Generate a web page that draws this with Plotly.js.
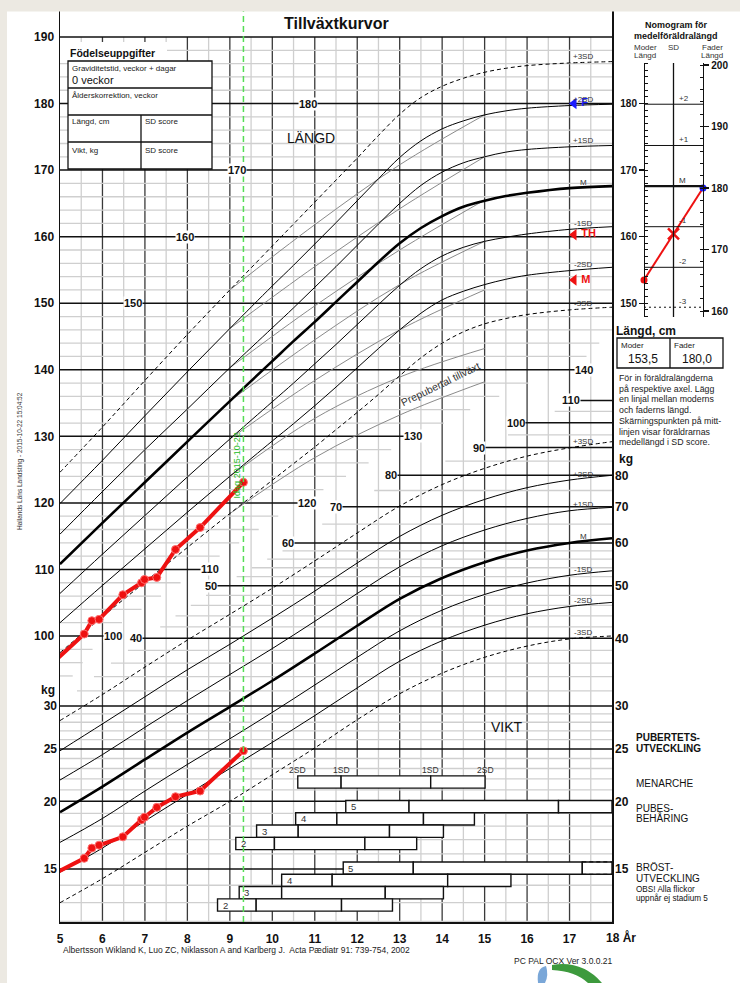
<!DOCTYPE html>
<html><head><meta charset="utf-8">
<script src="https://cdn.plot.ly/plotly-3.0.1.min.js"></script>
<style>html,body{margin:0;padding:0;background:#fff;}</style>
</head><body>
<div id="chart" style="width:740px;height:983px"></div>
<script>
// ---------------- DATA ----------------
const lAges = [5,6,7,8,9,10,10.5,11,11.5,12,12.5,13,13.5,14,14.5,15,15.5,16,17,18];
// Length (cm) reference curves
const lenP3 = [124.6,131.4,138.4,145.3,152.0,158.6,161.9,165.2,168.5,171.8,175.2,178.4,180.9,182.6,183.8,184.7,185.3,185.7,186.1,186.3];
const lenP2 = [119.9,126.4,133.1,139.7,146.2,152.6,155.7,158.9,162.1,165.4,168.7,171.9,174.4,176.2,177.4,178.3,178.9,179.3,179.7,179.9];
const lenP1 = [115.3,121.7,128.0,134.1,140.3,146.3,149.3,152.4,155.5,158.7,161.9,165.0,167.7,169.7,171.1,172.0,172.7,173.1,173.5,173.7];
const lenM  = [110.8,117.0,123.1,129.2,135.3,141.3,144.3,147.2,150.2,153.2,156.2,159.0,161.3,163.1,164.5,165.4,166.1,166.6,167.3,167.6];
const lenN1 = [106.4,112.3,118.1,123.9,129.6,135.2,138.0,140.9,143.8,146.8,149.8,152.7,155.2,157.1,158.4,159.3,159.9,160.4,161.1,161.5];
const lenN2 = [102.0,107.6,113.1,118.6,124.0,129.3,131.9,134.6,137.4,140.3,143.2,146.0,148.5,150.5,151.8,152.8,153.6,154.2,154.9,155.4];
const lenN3 = [97.5,102.9,108.1,113.3,118.4,123.4,125.9,128.4,131.0,133.6,136.3,139.1,141.8,144.0,145.7,146.9,147.7,148.3,149.0,149.4];
// Prepubertal (childhood) growth lines
const preAges = [9,11,13,15];
const preP3 = [152.0,161.8,170.8,178.3];
const preP2 = [146.2,155.5,164.2,172.0];
const preP1 = [140.3,149.6,158.0,165.5];
const preM  = [135.3,144.5,152.8,159.3];
const preN1 = [129.6,138.4,146.0,152.0];
const preN2 = [124.0,132.7,138.9,143.2];
const preN3 = [118.4,126.8,133.2,138.2];
const preLabel = "Prepubertal tillväxt";
// Weight (kg) reference curves
const wAges = [5,6,7,8,9,10,11,12,13,14,15,16,17,18];
const wtP3 = [28.2,31.5,35.4,39.7,44.3,49.5,55.6,62.6,70.2,76.9,82.4,86.8,89.9,92.3];
const wtP2 = [24.8,27.8,31.2,35.0,39.0,43.6,48.9,55.1,61.7,67.5,72.2,75.9,78.4,80.0];
const wtP1 = [21.9,24.4,27.4,30.7,34.3,38.3,43.0,48.4,54.2,59.3,63.4,66.6,68.8,69.8];
const wtM  = [19.1,21.3,23.9,26.8,29.9,33.4,37.5,42.2,47.3,51.7,55.3,58.1,60.0,61.2];
const wtN1 = [16.8,18.6,20.9,23.4,26.1,29.2,32.8,36.9,41.3,45.1,48.2,50.6,52.3,53.3];
const wtN2 = [14.8,16.4,18.4,20.6,23.0,25.7,28.8,32.4,36.3,39.6,42.3,44.4,45.8,46.6];
const wtN3 = [13.0,14.4,16.1,18.0,20.0,22.4,25.1,28.3,31.6,34.5,36.9,38.7,39.9,40.4];
// Measurements of the child
const measAge = [4.75,5.57,5.75,5.92,6.48,6.92,6.99,7.28,7.72,8.30,9.32];
const measLen = [95.5,100.3,102.3,102.5,106.2,108.0,108.5,108.8,113.0,116.3,123.1];
const measWt  = [14.55,15.7,16.4,16.6,17.2,18.5,18.7,19.5,20.4,20.9,24.8];
const todayAge = 9.32;
const todayLabel = "Idag 2015-10-22";
// Parents
const motherH = 153.5, fatherH = 180.0, targetH = 160.3;
// Puberty (age at -2SD, -1SD, +1SD, +2SD)
const menarche = [10.60,11.62,13.73,15.01];
const pubes5 = [11.73,13.22,16.74,18.0];
const pubes4 = [10.55,11.52,13.56,14.76];
const pubes3 = [9.63,10.61,12.76,14.03];
const pubes2 = [9.14,10.05,12.18,13.40];
const breast5 = [11.67,13.32,17.30,18.0];
const breast4 = [10.22,11.41,14.13,15.62];
const breast3 = [9.22,10.22,12.66,14.03];
const breast2 = [8.71,9.62,11.63,12.83];
// Tick labels
const xTicks = [5,6,7,8,9,10,11,12,13,14,15,16,17];
const lenTicks = [100,110,120,130,140,150,160,170,180,190];
const wtTicksLeft = [15,20,25,30];
const wtTicksRight = [15,20,25,30,40,50,60,70,80];
const sdNames = ["+3SD","+2SD","+1SD","M","-1SD","-2SD","-3SD"];
const nomoNames = ["+3","+2","+1","M","-1","-2","-3"];

// ---------------- GEOMETRY ----------------
const W = 740, H = 983;
const px = x => x / W, py = y => 1 - y / H;
const L = 60, R = 612, T = 11, B = 922, GT = 37;
const cmPx = 6.656;
const lenHi = 190 + (GT - T) / cmPx, lenLo = 100 - (B - 636) / cmPx;
const decPx = 541.6;
const wHi = Math.log10(30) + (706 - T) / decPx, wLo = Math.log10(30) - (B - 706) / decPx;
const rowPx = 12.3, rowBase = 905;
const rLo = (rowBase - B) / rowPx, rHi = (rowBase - T) / rowPx;
const yrPx = (R - L) / 13;
const ageAtPx = p => 5 + (p - L) / yrPx;
const FONT = "Liberation Sans, Arial, sans-serif";
const BEIGE = "#ece9e2";

const shapes = [], ann = [], traces = [];
function interp(xs, ys, x){ if(x<=xs[0]) return ys[0]; for(let i=0;i<xs.length-1;i++){ if(x<=xs[i+1]) { const t=(x-xs[i])/(xs[i+1]-xs[i]); return ys[i]+t*(ys[i+1]-ys[i]); } } return ys[ys.length-1]; }

// ---- minor grid ----
const gridY0 = py(B), gridY1 = py(GT);
for (let a = 5.5; a < 18; a += 1) shapes.push({type:'line', layer:'below', xref:'x', yref:'paper', x0:a, x1:a, y0:gridY0, y1:gridY1, line:{color:'#cfcfcf', width:1.3}});
const lenBoundL = [94,100,118,128,134,142,146], lenBoundA = [5.3,6.0,10.14,12.8,14.66,17.4,18];
for (let v = 94; v <= 188; v += 2) {
  if (v % 10 === 0) continue;
  const end = Math.min(18, interp(lenBoundL, lenBoundA, v));
  shapes.push({type:'line', layer:'below', xref:'x', yref:'y', x0:5, x1:end, y0:v, y1:v, line:{color:'#cfcfcf', width:1.3}});
}
const wBoundW = [30,40,50,60,70,80,90,100,110], wBoundA = [5,7.0,8.8,10.6,11.75,13.05,15.1,16.0,17.3];
const wMinor = [12,13,14,16,17,18,19,21,22,23,24,26,27,28,29,32,34,36,38,42,44,46,48,52,54,56,58,65,75,85,95,105];
wMinor.forEach(v => {
  const st = v < 30 ? 5 : interp(wBoundW, wBoundA, v);
  shapes.push({type:'line', layer:'below', xref:'x', yref:'y2', x0:st, x1:18, y0:v, y1:v, line:{color:'#cfcfcf', width:1.3}});
});
// ---- major grid ----
for (let a = 6; a < 18; a += 1) shapes.push({type:'line', layer:'below', xref:'x', yref:'paper', x0:a, x1:a, y0:gridY0, y1:gridY1, line:{color:'#3a3a3a', width:1.3}});
const lenFull = [[150,6.72],[160,7.94],[170,9.17],[180,10.84],[190,null]];
const lenPart = [[100,6.25],[110,8.53],[120,10.82],[130,13.31],[140,17.34]];
const lblFont = {size:11, family:FONT, color:'#111'};
lenFull.forEach(([v,a]) => {
  shapes.push({type:'line', layer:'below', xref:'x', yref:'y', x0:5, x1:18, y0:v, y1:v, line:{color:'#111', width:1.5}});
  if (a) ann.push({xref:'x', yref:'y', x:a, y:v, text:'<b>'+v+'</b>', showarrow:false, bgcolor:'#fff', font:lblFont, borderpad:0});
});
lenPart.forEach(([v,a]) => {
  shapes.push({type:'line', layer:'below', xref:'x', yref:'y', x0:5, x1:a, y0:v, y1:v, line:{color:'#111', width:1.5}});
  ann.push({xref:'x', yref:'y', x:a, y:v, text:'<b>'+v+'</b>', showarrow:false, bgcolor:'#fff', font:lblFont, borderpad:0});
});
const wtPart = [[40,6.79],[50,8.56],[60,10.37],[70,11.50],[80,12.80],[90,14.87],[100,15.74],[110,17.03]];
wtPart.forEach(([v,a]) => {
  shapes.push({type:'line', layer:'below', xref:'x', yref:'y2', x0:a, x1:18, y0:v, y1:v, line:{color:'#111', width:1.5}});
  ann.push({xref:'x', yref:'y2', x:a, y:Math.log10(v), text:'<b>'+v+'</b>', showarrow:false, bgcolor:'#fff', font:lblFont, borderpad:0});
});
[15,20,25,30].forEach(v => shapes.push({type:'line', layer:'below', xref:'x', yref:'y2', x0:5, x1:18, y0:v, y1:v, line:{color:'#111', width:1.5}}));

// ---- prepubertal lines ----
[preP3,preP2,preP1,preM,preN1,preN2,preN3].forEach(arr => traces.push({x:preAges, y:arr, xaxis:'x', yaxis:'y', mode:'lines', line:{color:'#8a8a8a', width:1, shape:'spline', smoothing:1}, hoverinfo:'skip', showlegend:false}));
ann.push({xref:'x', yref:'y', x:13.95, y:137.9, text:preLabel, textangle:-26, showarrow:false, font:{size:10.5, family:FONT, color:'#333'}});

// ---- reference curves ----
const lenCurves = [lenP3,lenP2,lenP1,lenM,lenN1,lenN2,lenN3];
const wtCurves = [wtP3,wtP2,wtP1,wtM,wtN1,wtN2,wtN3];
function styleFor(i){ if(i===3) return {color:'#000', width:2.6}; if(i===0||i===6) return {color:'#000', width:1, dash:'4px,3px'}; return {color:'#000', width:1}; }
lenCurves.forEach((c,i) => traces.push({x:lAges, y:c, xaxis:'x', yaxis:'y', mode:'lines', line:Object.assign({shape:'spline', smoothing:1}, styleFor(i)), hoverinfo:'skip', showlegend:false}));
wtCurves.forEach((c,i) => traces.push({x:wAges, y:c, xaxis:'x', yaxis:'y2', mode:'lines', line:Object.assign({shape:'spline', smoothing:1}, styleFor(i)), hoverinfo:'skip', showlegend:false}));
const labAge = ageAtPx(583);
const i17l = lAges.indexOf(17), i17w = wAges.indexOf(17);
lenCurves.forEach((c,i) => ann.push({xref:'x', yref:'y', x:labAge, y:c[i17l], yshift:6, text:sdNames[i], showarrow:false, font:{size:8, family:FONT, color:'#333'}}));
wtCurves.forEach((c,i) => ann.push({xref:'x', yref:'y2', x:labAge, y:Math.log10(c[i17w]), yshift:6, text:sdNames[i], showarrow:false, font:{size:8, family:FONT, color:'#333'}}));

// ---- puberty bars ----
const pubRows = [[menarche,10,null],[pubes5,8,'5'],[pubes4,7,'4'],[pubes3,6,'3'],[pubes2,5,'2'],[breast5,3,'5'],[breast4,2,'4'],[breast3,1,'3'],[breast2,0,'2']];
pubRows.forEach(([arr,row,lab]) => {
  for (let k=0;k<3;k++) traces.push({type:'bar', orientation:'h', xaxis:'x', yaxis:'y5', y:[row], x:[arr[k+1]-arr[k]], base:[arr[k]], width:[1], marker:{color:'#fff', line:{color:'#111', width:1.4}}, hoverinfo:'skip', showlegend:false});
  if (lab) ann.push({xref:'x', yref:'y5', x:arr[0], y:row, xshift:3, xanchor:'left', text:lab, showarrow:false, font:{size:9.5, family:FONT, color:'#333'}});
});
['2SD','1SD','1SD','2SD'].forEach((t,k) => ann.push({xref:'x', yref:'y5', x:menarche[k], y:10.95, text:t, showarrow:false, font:{size:8.5, family:FONT, color:'#333'}}));
[2.5,3.5].forEach(r => shapes.push({type:'line', xref:'x', yref:'y5', x0:breast5[2], x1:18, y0:r, y1:r, line:{color:'#111', width:1.2, dash:'4px,3px'}}));

// ---- today line ----
shapes.push({type:'line', xref:'x', yref:'paper', x0:todayAge, x1:todayAge, y0:py(B), y1:py(T), line:{color:'#55dd55', width:1.5, dash:'6px,4px'}});
ann.push({xref:'x', yref:'y', x:todayAge, y:125.7, xshift:-6, textangle:-90, text:todayLabel, showarrow:false, font:{size:9, family:FONT, color:'#22bb22'}});

// ---- measurements ----
const redMk = {color:'#ee1111', size:8, line:{color:'#ff7070', width:1}};
traces.push({x:measAge, y:measLen, xaxis:'x', yaxis:'y', mode:'lines+markers', line:{color:'#ee1111', width:4}, marker:redMk, hoverinfo:'skip', showlegend:false});
traces.push({x:measAge, y:measWt, xaxis:'x', yaxis:'y2', mode:'lines+markers', line:{color:'#ee1111', width:4}, marker:redMk, hoverinfo:'skip', showlegend:false});
const mkAge = ageAtPx(574);
traces.push({x:[mkAge], y:[fatherH], xaxis:'x', yaxis:'y', mode:'markers+text', marker:{symbol:'triangle-left', size:10, color:'#1a1aff'}, text:['<b>F</b>'], textposition:'middle right', textfont:{size:11, color:'#1a1aff', family:FONT}, hoverinfo:'skip', showlegend:false, cliponaxis:false});
traces.push({x:[mkAge,mkAge], y:[targetH,motherH], xaxis:'x', yaxis:'y', mode:'markers+text', marker:{symbol:'triangle-left', size:10, color:'#ee1111'}, text:['<b>TH</b>','<b>M</b>'], textposition:'middle right', textfont:{size:11, color:'#ee1111', family:FONT}, hoverinfo:'skip', showlegend:false, cliponaxis:false});

// ---- nomogram ----
const nomTop = 63, nomBot = 317;
const motherRange = [190 - (nomBot - GT)/cmPx, 190 - (nomTop - GT)/cmPx];
const fPx = 6.15;
const fatherRange = [160 - (nomBot - 311)/fPx, 200 + (65 - nomTop)/fPx];
const final = lenCurves.map(c => c[c.length-1]);
final.forEach((v,i) => {
  shapes.push({type:'line', xref:'x3', yref:'y3', x0:0, x1:2, y0:v, y1:v, line:{color:'#111', width: i===3?2.2:1, dash:(i===0||i===6)?'2px,3px':'solid'}});
  ann.push({xref:'x3', yref:'y3', x:1, y:v, xshift:3, yshift:6, xanchor:'left', text:nomoNames[i], showarrow:false, font:{size:8, family:FONT, color:'#333'}});
});
shapes.push({type:'line', xref:'x3', yref:'y3 domain', x0:1, x1:1, y0:0, y1:1, line:{color:'#111', width:1.3}});
const toMother = f => motherRange[0] + (f - fatherRange[0]) / (fatherRange[1]-fatherRange[0]) * (motherRange[1]-motherRange[0]);
const fEq = toMother(fatherH);
traces.push({x:[0,2], y:[motherH,fEq], xaxis:'x3', yaxis:'y3', mode:'lines', line:{color:'#ee1111', width:2}, hoverinfo:'skip', showlegend:false});
traces.push({x:[0], y:[motherH], xaxis:'x3', yaxis:'y3', mode:'markers', marker:{color:'#ee1111', size:7}, cliponaxis:false, hoverinfo:'skip', showlegend:false});
traces.push({x:[2], y:[fEq], xaxis:'x3', yaxis:'y3', mode:'markers', marker:{color:'#1a1aff', size:7}, cliponaxis:false, hoverinfo:'skip', showlegend:false});
traces.push({x:[1], y:[(motherH+fEq)/2], xaxis:'x3', yaxis:'y3', mode:'markers', marker:{color:'#ee1111', size:11, symbol:'x-thin', line:{color:'#ee1111', width:2.5}}, cliponaxis:false, hoverinfo:'skip', showlegend:false});
traces.push({x:[2], y:[fatherH], xaxis:'x3', yaxis:'y4', mode:'markers', marker:{opacity:0}, hoverinfo:'skip', showlegend:false});

// ---- static panels (text) ----
function t(x,y,text,opt){ ann.push(Object.assign({xref:'paper', yref:'paper', x:px(x), y:py(y), text:text, showarrow:false, xanchor:'left', yanchor:'middle', font:{size:9, family:FONT, color:'#111'}}, opt||{})); }
t(336,24,'<b>Tillväxtkurvor</b>',{xanchor:'center', font:{size:16, family:FONT, color:'#111'}});
t(311,138,'LÄNGD',{xanchor:'center', font:{size:14, family:FONT, color:'#111'}});
t(507,727,'VIKT',{xanchor:'center', font:{size:14, family:FONT, color:'#111'}});
shapes.push({type:'rect', xref:'paper', yref:'paper', x0:px(60), x1:px(167), y0:py(61), y1:py(42), fillcolor:'#fff', line:{width:0}});
shapes.push({type:'rect', xref:'paper', yref:'paper', x0:px(68), x1:px(212), y0:py(169), y1:py(61), fillcolor:'#fff', line:{color:'#111', width:1.3}});
[88,115,142].forEach(y => shapes.push({type:'line', xref:'paper', yref:'paper', x0:px(68), x1:px(212), y0:py(y), y1:py(y), line:{color:'#111', width:1.3}}));
shapes.push({type:'line', xref:'paper', yref:'paper', x0:px(141), x1:px(141), y0:py(169), y1:py(115), line:{color:'#111', width:1.3}});
const small = {size:8, family:FONT, color:'#222'};
t(68,53,'<b>Födelseuppgifter</b>',{font:{size:10.5, family:FONT, color:'#111'}});
t(70,68,'Graviditetstid, veckor + dagar',{font:small});
t(70,80,'0 veckor',{font:{size:11, family:FONT, color:'#111'}});
t(70,95,'Ålderskorrektion, veckor',{font:small});
t(70,122,'Längd, cm',{font:small});
t(143,122,'SD score',{font:small});
t(70,150,'Vikt, kg',{font:small});
t(143,150,'SD score',{font:small});
t(57,690,'<b>kg</b>',{xanchor:'right', font:{size:12, family:FONT, color:'#111'}});
t(617,459,'<b>kg</b>',{font:{size:12, family:FONT, color:'#111'}});
t(604,937,'<b>18 År</b>',{font:{size:12, family:FONT, color:'#111'}});
t(57,7,'<b>cm</b>',{xanchor:'right', font:{size:12, family:FONT, color:'#111'}});
ann.push({xref:'paper', yref:'paper', x:0, y:1, xanchor:'left', yanchor:'top', width:W, height:10, text:' ', showarrow:false, bgcolor:BEIGE, borderpad:0});
t(20,461,'Hallands Läns Landsting - 2015-10-22 15:04:52',{xanchor:'center', textangle:-90, font:{size:6.5, family:FONT, color:'#333'}});
t(61,950,'Albertsson Wikland K, Luo ZC, Niklasson A and Karlberg J.  Acta Pædiatr 91: 739-754, 2002',{font:{size:8.5, family:FONT, color:'#222'}});
t(512,961,'PC PAL OCX Ver 3.0.0.21',{font:{size:8.5, family:FONT, color:'#222'}});
const pf = {size:10, family:FONT, color:'#111'};
t(634,737,'<b>PUBERTETS-</b>',{font:pf});
t(634,748,'<b>UTVECKLING</b>',{font:pf});
t(634,783,'MENARCHE',{font:pf});
t(634,808,'PUBES-',{font:pf});
t(634,818,'BEHÅRING',{font:pf});
t(634,867,'BRÖST-',{font:pf});
t(634,878,'UTVECKLING',{font:pf});
t(634,889,'OBS! Alla flickor',{font:{size:8.2, family:FONT, color:'#111'}});
t(634,898,'uppnår ej stadium 5',{font:{size:8.2, family:FONT, color:'#111'}});
t(676,25,'<b>Nomogram för</b>',{xanchor:'center', font:{size:9, family:FONT, color:'#111'}});
t(676,36,'<b>medelföräldralängd</b>',{xanchor:'center', font:{size:9, family:FONT, color:'#111'}});
const hf = {size:8, family:FONT, color:'#333'};
t(645,48,'Moder',{xanchor:'center', font:hf});
t(645,56,'Längd',{xanchor:'center', font:hf});
t(673,48,'SD',{xanchor:'center', font:hf});
t(712,48,'Fader',{xanchor:'center', font:hf});
t(712,56,'Längd',{xanchor:'center', font:hf});
t(614,331,'<b>Längd, cm</b>',{font:{size:12, family:FONT, color:'#111'}});
shapes.push({type:'rect', xref:'paper', yref:'paper', x0:px(617), x1:px(723), y0:py(368), y1:py(338), line:{color:'#111', width:1.3}});
shapes.push({type:'line', xref:'paper', yref:'paper', x0:px(670), x1:px(670), y0:py(368), y1:py(338), line:{color:'#111', width:1.3}});
t(619,345,'Moder',{font:small});
t(672,345,'Fader',{font:small});
t(643,359,motherH.toFixed(1).replace('.',','),{xanchor:'center', font:{size:12, family:FONT, color:'#111'}});
t(697,359,fatherH.toFixed(1).replace('.',','),{xanchor:'center', font:{size:12, family:FONT, color:'#111'}});
['För in föräldralängderna','på respektive axel. Lägg','en linjal mellan moderns','och faderns längd.','Skärningspunkten på mitt-','linjen visar föräldrarnas','medellängd i SD score.'].forEach((s,i) => t(617,378+i*10.7,s,{font:{size:8.8, family:FONT, color:'#222'}}));
// beige frame
shapes.push({type:'rect', xref:'paper', yref:'paper', x0:0, x1:1, y0:py(10.5), y1:1, fillcolor:BEIGE, line:{width:0}, layer:'above'});
shapes.push({type:'rect', xref:'paper', yref:'paper', x0:0, x1:px(7), y0:0, y1:1, fillcolor:BEIGE, line:{width:0}, layer:'above'});
// logo fragment at bottom
const P = (x,y) => px(x).toFixed(5)+','+py(y).toFixed(5);
shapes.push({type:'path', xref:'paper', yref:'paper', path:'M'+P(538,983)+' Q'+P(536,968)+' '+P(546,966)+' Q'+P(549,975)+' '+P(545,983)+' Z', fillcolor:'#7aa7d8', line:{width:0}});
shapes.push({type:'path', xref:'paper', yref:'paper', path:'M'+P(552,965)+' Q'+P(582,960)+' '+P(602,983)+' L'+P(588,983)+' Q'+P(575,971)+' '+P(552,970)+' Z', fillcolor:'#3d9a3d', line:{width:0}});

const boldTick = {size:12, family:FONT, color:'#111', weight:700};
const layout = {
  width: W, height: H, margin:{l:0,r:0,t:0,b:0}, paper_bgcolor:'#fff', plot_bgcolor:'rgba(0,0,0,0)', showlegend:false, barmode:'overlay',
  xaxis:{domain:[px(L),px(R)], range:[5,18], tickvals:xTicks, ticks:'', showgrid:false, zeroline:false, showline:true, linecolor:'#111', linewidth:1.5, tickfont:boldTick, ticklabelstandoff:5, anchor:'y'},
  yaxis:{domain:[py(B),py(T)], range:[lenLo,lenHi], tickvals:lenTicks, ticks:'', showgrid:false, zeroline:false, showline:true, mirror:true, linecolor:'#111', linewidth:1.5, tickfont:boldTick, ticklabelstandoff:2},
  yaxis2:{overlaying:'y', side:'right', type:'log', range:[wLo,wHi], tickvals:wtTicksRight, ticktext:wtTicksRight.map(String), ticks:'', showgrid:false, zeroline:false, showline:false, tickfont:boldTick, ticklabelstandoff:2},
  yaxis6:{overlaying:'y', side:'left', type:'log', range:[wLo,wHi], tickvals:wtTicksLeft, ticktext:wtTicksLeft.map(String), ticks:'', showgrid:false, zeroline:false, showline:false, tickfont:boldTick, ticklabelstandoff:2},
  yaxis5:{overlaying:'y', range:[rLo,rHi], visible:false},
  xaxis3:{domain:[px(R),1], range:[(R-644)/29.5,(W-644)/29.5], visible:false, anchor:'y3'},
  yaxis3:{domain:[py(nomBot),py(nomTop)], range:motherRange, anchor:'free', position:px(644), side:'left', tickvals:[150,160,170,180], ticks:'outside', ticklen:5, tickwidth:1.3, tickcolor:'#111', minor:{ticks:'inside', ticklen:3, dtick:1, tickcolor:'#111', tickwidth:1}, showline:true, linecolor:'#111', linewidth:1.3, showgrid:false, zeroline:false, tickfont:{size:10, family:FONT, color:'#111', weight:700}},
  yaxis4:{overlaying:'y3', range:fatherRange, anchor:'free', position:px(703), side:'right', tickvals:[160,170,180,190,200], ticks:'outside', ticklen:5, tickwidth:1.3, tickcolor:'#111', minor:{ticks:'inside', ticklen:3, dtick:2, tickcolor:'#111', tickwidth:1}, showline:true, linecolor:'#111', linewidth:1.3, showgrid:false, zeroline:false, tickfont:{size:10, family:FONT, color:'#111', weight:700}},
  shapes: shapes, annotations: ann
};
traces.push({x:[5], y:[20], xaxis:'x', yaxis:'y6', mode:'markers', marker:{opacity:0}, hoverinfo:'skip', showlegend:false});
Plotly.newPlot('chart', traces, layout, {staticPlot:true, displayModeBar:false});
</script>
</body></html>
